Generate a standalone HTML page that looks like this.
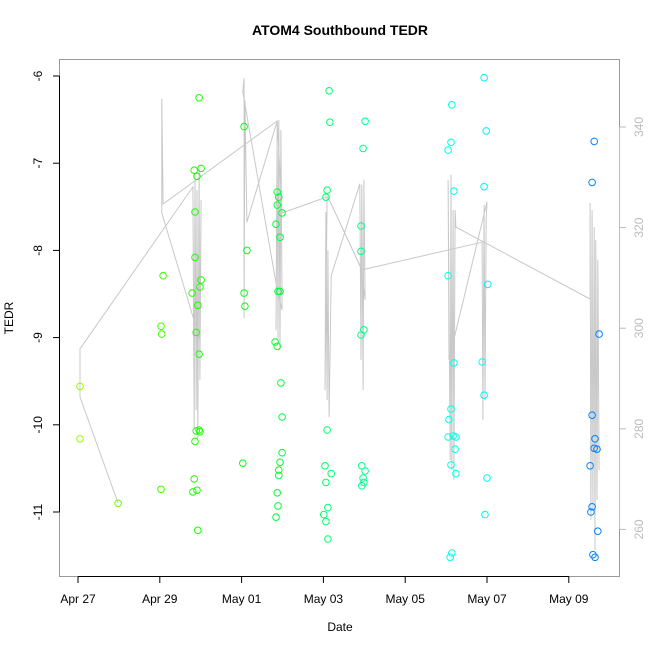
<!DOCTYPE html>
<html><head><meta charset="utf-8"><style>
html,body{margin:0;padding:0;background:#fff}
svg{display:block;font-family:"Liberation Sans",sans-serif}
</style></head><body>
<svg id="chart" width="650" height="650" viewBox="0 0 650 650">
<text x="340" y="35" text-anchor="middle" font-weight="bold" font-size="14">ATOM4 Southbound TEDR</text>
<text x="340" y="631" text-anchor="middle" font-size="12">Date</text>
<text x="0" y="0" transform="translate(13,318) rotate(-90)" text-anchor="middle" font-size="12">TEDR</text>
<rect x="59.5" y="59.5" width="560" height="517" fill="none" stroke="#999" stroke-width="1"/>
<g id="grey"></g>
<g id="pts"></g>
<g id="axes"></g>
</svg>
<script>
const xTickLabels = ["Apr 27","Apr 29","May 01","May 03","May 05","May 07","May 09"];
const xTickDays = [0,2,4,6,8,10,12];
const yTicks = [-6,-7,-8,-9,-10,-11];
const y2Ticks = [340,320,300,280,260];
const pointDays = [2.96,2.84,3.01,2.91,2.86,2.86,3.01,2.98,2.79,2.93,2.89,2.96,0.05,0.05,0.98,2.08,2.03,2.05,2.03,2.89,2.96,2.98,2.86,2.84,2.91,2.81,2.93,
4.06,4.13,4.06,4.08,4.03,4.87,4.91,4.87,4.99,4.84,4.94,4.89,4.94,4.82,4.87,4.96,4.99,4.99,4.94,4.91,4.91,4.87,4.89,4.84,
6.14,6.16,6.09,6.06,7.02,6.97,6.92,6.92,6.99,6.92,6.09,6.04,6.19,6.06,6.11,6.01,6.06,6.11,6.94,7.02,6.97,6.99,6.94,
9.14,9.12,9.05,9.19,9.05,9.19,9.12,9.07,9.05,9.17,9.24,9.22,9.12,9.24,9.14,9.10,
9.93,9.98,9.93,10.02,9.88,9.93,10.0,9.95,
12.62,12.57,12.74,12.57,12.64,12.62,12.69,12.52,12.57,12.54,12.71,12.59,12.64];
const pointTedr = [-6.25,-7.08,-7.06,-7.15,-7.56,-8.08,-8.34,-8.42,-8.49,-8.63,-8.94,-9.19,-9.56,-10.16,-10.90,-8.29,-8.87,-8.96,-10.74,-10.07,-10.06,-10.08,-10.19,-10.62,-10.75,-10.77,-11.21,
-6.58,-8.00,-8.49,-8.64,-10.44,-7.33,-7.39,-7.48,-7.57,-7.70,-7.85,-8.47,-8.47,-9.05,-9.10,-9.52,-9.91,-10.32,-10.43,-10.52,-10.58,-10.78,-10.93,-11.06,
-6.17,-6.53,-7.31,-7.39,-6.52,-6.83,-7.72,-8.01,-8.91,-8.97,-10.06,-10.47,-10.56,-10.66,-10.95,-11.03,-11.11,-11.31,-10.47,-10.53,-10.61,-10.66,-10.70,
-6.33,-6.76,-6.85,-7.32,-8.29,-9.29,-9.82,-9.94,-10.14,-10.13,-10.14,-10.28,-10.46,-10.56,-11.47,-11.52,
-6.02,-6.63,-7.27,-8.39,-9.28,-9.66,-10.61,-11.03,
-6.75,-7.22,-8.96,-9.89,-10.16,-10.27,-10.28,-10.47,-10.94,-11.00,-11.22,-11.49,-11.52];
const lineDays = [0.98,0.05,0.05,2.81,2.84,2.86,2.89,2.91,2.93,2.96,2.98,3.01,2.98,2.05,2.05,2.08,4.87,4.84,4.87,4.89,4.91,4.94,4.96,4.99,4.87,4.03,4.06,4.06,4.08,4.13,4.87,4.99,6.09,6.04,6.06,6.09,6.11,6.14,6.19,6.89,6.92,6.94,6.97,6.99,7.02,6.92,6.11,6.94,9.88,9.90,9.93,9.95,9.98,10.0,9.07,9.05,9.10,9.12,9.14,9.17,9.19,9.22,9.24,12.52,12.52,12.54,12.57,12.59,12.62,12.64,12.66,12.69,12.71,12.74];
const lineVals = [265.2,286.3,295.9,328.1,279.8,330.5,283.7,327.5,277.8,331.5,289.7,325.5,297.7,322.9,345.6,324.7,341.2,299.6,335.4,297.7,341.4,295.7,339.4,303.6,307.6,347.0,349.7,302.0,345.4,321.1,341.2,322.9,326.1,287.7,323.1,285.7,315.5,282.3,310.4,328.7,293.7,328.5,287.7,329.5,305.6,312.0,326.1,311.6,317.1,281.7,324.5,285.7,321.5,325.1,293.7,329.5,273.8,330.5,271.8,323.5,269.8,323.5,320.1,305.8,324.9,261.9,323.5,263.9,320.1,255.9,317.5,265.8,313.6,271.8];

const NS="http://www.w3.org/2000/svg";
const X=d=>78+d*40.9;
const Y=v=>76+(-6-v)*87.2;
const Y2=v=>127+(340-v)*5.03;
function mk(tag,attrs,parent){const e=document.createElementNS(NS,tag);for(const k in attrs)e.setAttribute(k,attrs[k]);parent.appendChild(e);return e;}

const grey=document.getElementById('grey');
let d='';
for(let i=0;i<lineDays.length;i++){d+=(i?'L':'M')+X(lineDays[i]).toFixed(1)+' '+Y2(lineVals[i]).toFixed(1);}
const gp=mk('path',{d:d,fill:'none',stroke:'#c8c8c8','stroke-width':1},grey);



const pts=document.getElementById('pts');
for(let i=0;i<pointDays.length;i++){
  const h=85+pointDays[i]/12.7*125;
  const c=mk('circle',{cx:X(pointDays[i]).toFixed(1),cy:Y(pointTedr[i]).toFixed(1),r:3.3,fill:'none',stroke:'hsl('+h.toFixed(0)+',100%,50%)','stroke-width':1},pts);
  
  
}

const ax=document.getElementById('axes');
const xl=mk('line',{x1:X(0),x2:X(12),y1:576.5,y2:576.5,stroke:'#000'},ax);


xTickDays.forEach((dd,i)=>{
  const t=mk('line',{x1:X(dd),x2:X(dd),y1:576.5,y2:583,stroke:'#000'},ax);
  
  
  const l=mk('text',{x:X(dd),y:603,'text-anchor':'middle','font-size':12},ax);
  l.textContent=xTickLabels[i];
  
  
});
const yl=mk('line',{x1:59.5,x2:59.5,y1:Y(-6),y2:Y(-11),stroke:'#000'},ax);


yTicks.forEach(v=>{
  const t=mk('line',{x1:53,x2:59.5,y1:Y(v),y2:Y(v),stroke:'#000'},ax);
  
  
  const l=mk('text',{x:0,y:0,transform:'translate(42,'+Y(v)+') rotate(-90)','text-anchor':'middle','font-size':12},ax);
  l.textContent=String(v);
  
  
});
const y2l=mk('line',{x1:619.5,x2:619.5,y1:Y2(340),y2:Y2(260),stroke:'#bbb'},ax);


y2Ticks.forEach(v=>{
  const t=mk('line',{x1:619.5,x2:626,y1:Y2(v),y2:Y2(v),stroke:'#bbb'},ax);
  
  
  const l=mk('text',{x:0,y:0,transform:'translate(643,'+Y2(v)+') rotate(-90)','text-anchor':'middle','font-size':12,fill:'#bbb'},ax);
  l.textContent=String(v);
  
  
});
</script>
</body></html>
